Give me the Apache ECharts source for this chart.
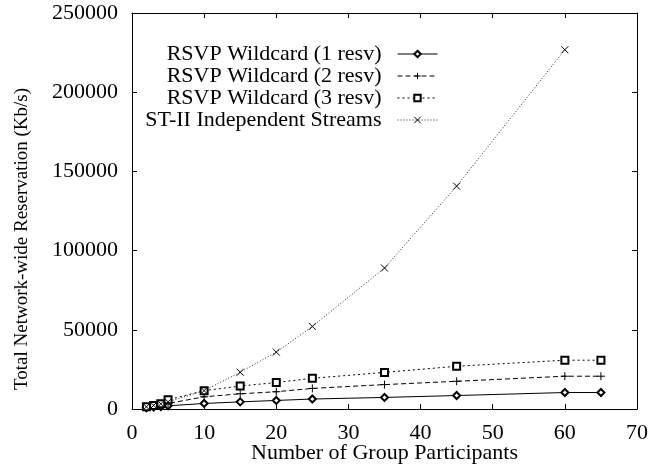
<!DOCTYPE html>
<html>
<head>
<meta charset="utf-8">
<script src="https://cdn.jsdelivr.net/npm/echarts@6/dist/echarts.min.js"></script>
<style>html,body{margin:0;padding:0;background:#fff}#c{width:655px;height:465px}</style>
</head>
<body>
<div id="c"></div>
<script>
const participants = [2, 3, 4, 5, 10, 15, 20, 25, 35, 45, 60, 65];
const stParticipants = [2, 3, 4, 5, 10, 15, 20, 25, 35, 45, 60];
const resv1 = [800, 1200, 1600, 2000, 3500, 4500, 5400, 6300, 7300, 8500, 10400, 10400];
const resv2 = [1300, 2000, 2700, 3500, 7700, 9600, 10900, 13000, 15400, 17500, 20700, 20700];
const resv3 = [1400, 2200, 3300, 5800, 11600, 14500, 16700, 19400, 23100, 27000, 30800, 30800];
const stStreams = [1400, 2300, 3300, 4500, 11600, 23200, 35900, 52100, 89000, 140700, 226800];
const seriesNames = ['RSVP Wildcard (1 resv)', 'RSVP Wildcard (2 resv)', 'RSVP Wildcard (3 resv)', 'ST-II Independent Streams'];
const xTitle = 'Number of Group Participants';
const yTitle = 'Total Network-wide Reservation (Kb/s)';

const FONT = 'Liberation Serif';
const zip = (xs, ys) => xs.map((x, i) => [x, ys[i]]);

const chart = echarts.init(document.getElementById('c'), null, {renderer: 'canvas'});
const axisCommon = {
  type: 'value',
  axisLine: {show: true, onZero: false, lineStyle: {color: '#000', width: 1}},
  axisTick: {show: true, inside: true, length: 5, lineStyle: {color: '#000'}},
  splitLine: {show: false}
};
const mk = (name, data, symbol, size, lineType, color) => ({
  name, type: 'line', data, symbol, symbolSize: size, showSymbol: true,
  symbolKeepAspect: true,
  lineStyle: {color: color, width: 1, type: lineType},
  itemStyle: {color: '#000', borderColor: '#000', borderWidth: 1},
  emphasis: {disabled: true},
  animation: false
});
chart.setOption({
  animation: false,
  backgroundColor: '#fff',
  grid: {left: 132, right: 18, top: 13, bottom: 56, outerBoundsMode: 'none', containLabel: false},
  legend: {
    orient: 'vertical', align: 'right', right: 217, top: 43, padding: 0,
    itemWidth: 40, itemHeight: 8, itemGap: 0,
    lineStyle: {width: 1},
    itemStyle: {borderWidth: 1},
    textStyle: {fontFamily: FONT, fontSize: 22, color: '#000', padding: [0, 11, 0, 0]},
    data: seriesNames
  },
  xAxis: [
    Object.assign({}, axisCommon, {
      min: 0, max: 70, interval: 10, position: 'bottom',
      axisLabel: {fontFamily: FONT, fontSize: 22, color: '#000', margin: 13},
      name: xTitle, nameLocation: 'middle', nameGap: 33, nameMoveOverlap: false,
      nameTextStyle: {fontFamily: FONT, fontSize: 22, color: '#000'}
    }),
    Object.assign({}, axisCommon, {
      min: 0, max: 70, interval: 10, position: 'top', axisLabel: {show: false}
    })
  ],
  yAxis: [
    Object.assign({}, axisCommon, {
      min: 0, max: 250000, interval: 50000, position: 'left',
      axisLabel: {fontFamily: FONT, fontSize: 22, color: '#000', margin: 14, formatter: v => String(v)},
      name: yTitle, nameLocation: 'middle', nameGap: 100, nameMoveOverlap: false,
      nameTextStyle: {fontFamily: FONT, fontSize: 19, color: '#000', padding: [0, 56, 0, 0]}
    }),
    Object.assign({}, axisCommon, {
      min: 0, max: 250000, interval: 50000, position: 'right', axisLabel: {show: false}
    })
  ],
  series: [
    mk(seriesNames[0], zip(participants, resv1), 'emptyDiamond', 7, 'solid', '#000'),
    mk(seriesNames[1], zip(participants, resv2), 'path://M0,5H10M5,0V10', 8, [5, 3], '#000'),
    mk(seriesNames[2], zip(participants, resv3), 'emptyRect', 7, [2, 3], '#000'),
    mk(seriesNames[3], zip(stParticipants, stStreams), 'path://M0,0L10,10M10,0L0,10', 7, [1, 2], '#222')
  ]
});
</script>
</body>
</html>
